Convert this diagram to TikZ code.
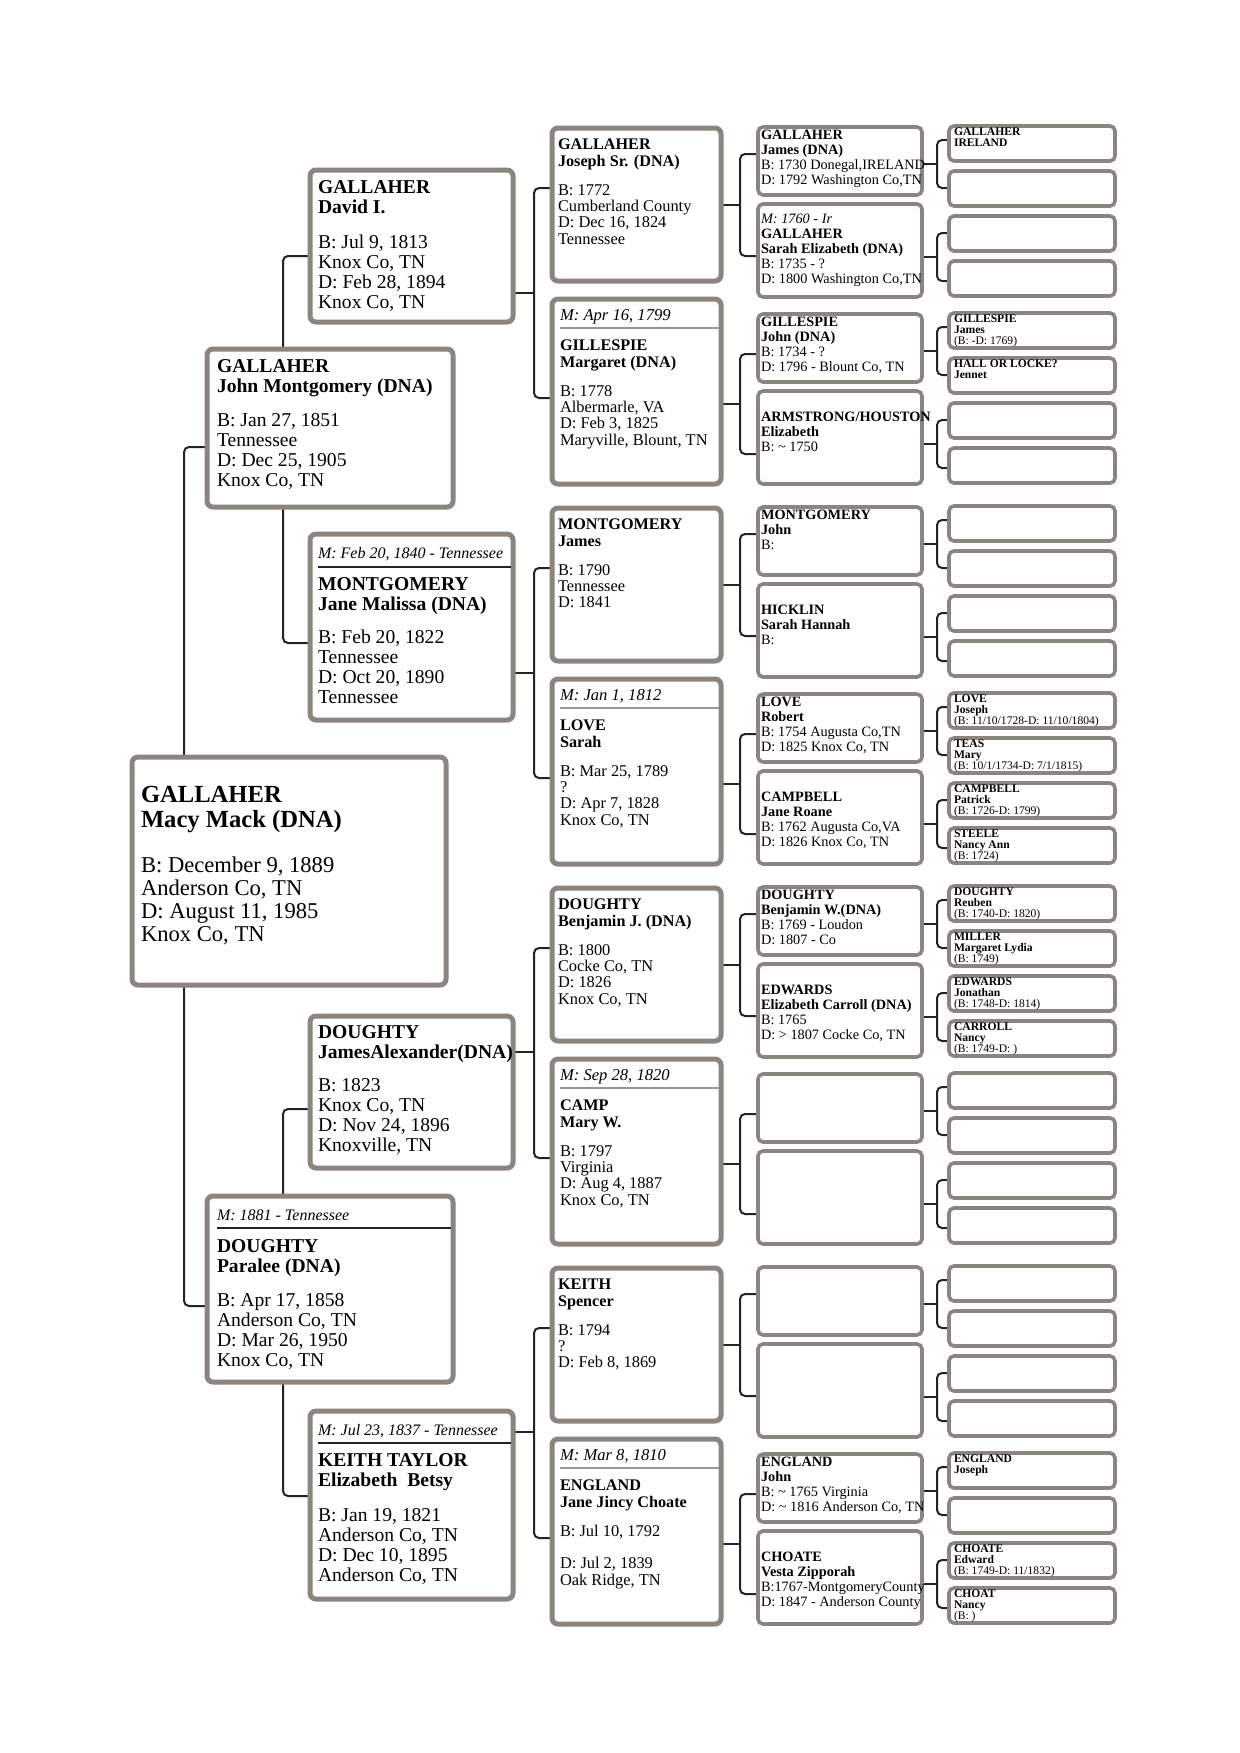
\documentclass[tikz,border=0pt]{standalone}
\usepackage{fontspec}
\setmainfont{Liberation Serif}
\pgfdeclarelayer{bg}
\pgfsetlayers{bg,main}
\definecolor{bx}{RGB}{139,133,130}
\definecolor{ln}{RGB}{35,35,35}
\definecolor{rl}{RGB}{150,150,150}
\newcommand\pedbox[6]{\node[#2,anchor=north west,minimum width={((#5)-(#3)-4)*0.5pt},minimum height={((#6)-(#4)-4)*0.5pt}] (#1) at ({(#3)+2},{(#4)+2}) {};}
\newcommand\rgl{\mdseries}
\newcommand\stk[1]{\begin{tabular}[t]{@{}l@{}}#1\end{tabular}}
\tikzset{
  bigbox/.style={draw=bx,line width=2.5pt,rounded corners=3pt,fill=white,inner sep=0pt,outer sep=0pt},
  smallbox/.style={draw=bx,line width=1.8pt,rounded corners=2.5pt,fill=white,inner sep=0pt,outer sep=0pt},
  conn/.style={draw=ln,line width=1pt,rounded corners=2.5pt},
  rule2/.style={draw=ln,line width=0.6pt},
  rule3/.style={draw=rl,line width=0.6pt},
  tx/.style={anchor=base west,inner sep=0pt,outer sep=0pt},
  nR/.style={tx,font=\bfseries\fontsize{12.3}{12.5}\selectfont},
  dR/.style={tx,font=\fontsize{11.3}{11.6}\selectfont},
  n2/.style={tx,font=\bfseries\fontsize{9.8}{10}\selectfont},
  d2/.style={tx,font=\fontsize{9.8}{10}\selectfont},
  m2/.style={tx,font=\itshape\fontsize{8}{8}\selectfont},
  n3/.style={tx,font=\bfseries\fontsize{8.1}{8.5}\selectfont},
  d3/.style={tx,font=\fontsize{8.2}{8.2}\selectfont},
  m3/.style={tx,font=\itshape\fontsize{8.3}{8.3}\selectfont},
  t4/.style={tx,font=\bfseries\fontsize{7.15}{7.5}\selectfont},
  t5/.style={tx,font=\bfseries\fontsize{5.8}{5.5}\selectfont},
}
\begin{document}
\begin{tikzpicture}[x=0.5pt,y=-0.5pt]
\begin{pgfonlayer}{bg}
\fill[white] (0,0) rectangle (1240,1753);
\end{pgfonlayer}
\useasboundingbox (0,0) rectangle (1240,1753);

% ---------- boxes ----------
\pedbox{root}{bigbox}{130}{755}{448}{987}
\pedbox{john}{bigbox}{205}{347}{455}{509}
\pedbox{paralee}{bigbox}{205}{1194}{455}{1384}
\pedbox{david}{bigbox}{308}{168}{515}{324}
\pedbox{jane}{bigbox}{308}{532}{515}{722}
\pedbox{jamesa}{bigbox}{308}{1014}{515}{1170}
\pedbox{kt}{bigbox}{308}{1409}{515}{1601}
\foreach \m/\g in {0/124,2/504,4/884,6/1264} {\pedbox{g3-\m}{bigbox}{550}{\g+2}{723}{\g+159}}
\foreach \m/\g in {1/311,3/691,5/1071,7/1451} {\pedbox{g3-\m}{bigbox}{550}{\g-14}{723}{\g+175}}
\foreach \k/\p in {0/124,2/311,4/504,6/691,8/884,10/1071,12/1264,14/1451} {\pedbox{g4-\k}{smallbox}{756}{\p+1}{924}{\p+73}}
\foreach \k/\p in {1/214,3/401,5/594,7/781,9/974,11/1161,13/1354,15/1541} {\pedbox{g4-\k}{smallbox}{756}{\p-12}{924}{\p+85}}
\foreach \i/\t in {0/124,1/169,2/214,3/259,4/311,5/356,6/401,7/446,8/504,9/549,10/594,11/639,12/691,13/736,14/781,15/826,16/884,17/929,18/974,19/1019,20/1071,21/1116,22/1161,23/1206,24/1264,25/1309,26/1354,27/1399,28/1451,29/1496,30/1541,31/1586} {\pedbox{g5-\i}{smallbox}{947}{\t}{1117}{\t+39}}

% ---------- connectors ----------
\begin{pgfonlayer}{bg}
\draw[conn] (184,0 |- root.north) |- (john.west |- 0,447);
\draw[conn] (184,0 |- root.south) |- (paralee.west |- 0,1306);
\draw[conn] (283,0 |- john.north) |- (david.west |- 0,256);
\draw[conn] (283,0 |- john.south) |- (jane.west |- 0,643);
\draw[conn] (283,0 |- paralee.north) |- (jamesa.west |- 0,1109);
\draw[conn] (283,0 |- paralee.south) |- (kt.west |- 0,1496);
\foreach \p/\a/\s/\b/\m in {david/188/293/398/0, jane/568/673/778/2, jamesa/948/1052/1158/4, kt/1328/1432/1538/6} {
  \pgfmathtruncatemacro\mb{\m+1}
  \draw[conn] (\p.east |- 0,\s) -- (534,\s);
  \draw[conn] (g3-\m.west |- 0,\a) -| (534,\s) |- (g3-\mb.west |- 0,\b);
}
\foreach \m/\a/\s/\b in {0/154/205/256, 1/354/404/454, 2/534/585/636, 3/734/784/834, 4/914/965/1016, 5/1114/1164/1214, 6/1294/1345/1396, 7/1494/1544/1594} {
  \pgfmathtruncatemacro\ka{2*\m}
  \pgfmathtruncatemacro\kb{2*\m+1}
  \draw[conn] (g3-\m.east |- 0,\s) -- (740,\s);
  \draw[conn] (g4-\ka.west |- 0,\a) -| (740,\s) |- (g4-\kb.west |- 0,\b);
}
\foreach \k/\a/\s/\b in {0/140/164/188, 1/233/257/281, 2/327/351/375, 3/420/444/468, 4/520/544/568, 5/613/637/661, 6/707/731/755, 7/800/824/848, 8/900/924/948, 9/993/1017/1041, 10/1087/1111/1135, 11/1180/1204/1228, 12/1280/1304/1328, 13/1373/1397/1421, 14/1467/1491/1515, 15/1560/1584/1608} {
  \pgfmathtruncatemacro\ia{2*\k}
  \pgfmathtruncatemacro\ib{2*\k+1}
  \draw[conn] (g4-\k.east |- 0,\s) -- (937,\s);
  \draw[conn] (g5-\ia.west |- 0,\a) -| (937,\s) |- (g5-\ib.west |- 0,\b);
}
\end{pgfonlayer}

% ---------- marriage rules ----------
\draw[rule2] (217,1228) -- (451,1228);
\draw[rule2] (318,567) -- (511,567);
\draw[rule2] (318,1443) -- (511,1443);
\foreach \y in {328,708,1088,1468} {\draw[rule3] (560,\y) -- (719,\y);}

% ---------- root ----------
\node[nR] (root-n) at (141,802) {\stk{GALLAHER\\Macy Mack (DNA)}};
\node[dR] (root-d) at (141,872) {\stk{B: December 9, 1889\\Anderson Co, TN\\D: August 11, 1985\\Knox Co, TN}};

% ---------- generation 1 ----------
\node[n2] (john-n) at (217,372) {\stk{GALLAHER\\John Montgomery (DNA)}};
\node[d2] (john-d) at (217,426) {\stk{B: Jan 27, 1851\\Tennessee\\D: Dec 25, 1905\\Knox Co, TN}};
\node[m2] (paralee-m) at (217,1220) {M: 1881 - Tennessee};
\node[n2] (paralee-n) at (217,1252) {\stk{DOUGHTY\\Paralee (DNA)}};
\node[d2] (paralee-d) at (217,1306) {\stk{B: Apr 17, 1858\\Anderson Co, TN\\D: Mar 26, 1950\\Knox Co, TN}};

% ---------- generation 2 ----------
\node[n2] (david-n) at (318,193) {\stk{GALLAHER\\David I.}};
\node[d2] (david-d) at (318,248) {\stk{B: Jul 9, 1813\\Knox Co, TN\\D: Feb 28, 1894\\Knox Co, TN}};
\node[m2] (jane-m) at (318,558) {M: Feb 20, 1840 - Tennessee};
\node[n2] (jane-n) at (318,590) {\stk{MONTGOMERY\\Jane Malissa (DNA)}};
\node[d2] (jane-d) at (318,643) {\stk{B: Feb 20, 1822\\Tennessee\\D: Oct 20, 1890\\Tennessee}};
\node[n2] (jamesa-n) at (318,1038) {\stk{DOUGHTY\\JamesAlexander(DNA)}};
\node[d2] (jamesa-d) at (318,1091) {\stk{B: 1823\\Knox Co, TN\\D: Nov 24, 1896\\Knoxville, TN}};
\node[m2] (kt-m) at (318,1435) {M: Jul 23, 1837 - Tennessee};
\node[n2] (kt-n) at (318,1466) {\stk{KEITH TAYLOR\\Elizabeth\ \ Betsy}};
\node[d2] (kt-d) at (318,1521) {\stk{B: Jan 19, 1821\\Anderson Co, TN\\D: Dec 10, 1895\\Anderson Co, TN}};

% ---------- generation 3 ----------
\node[n3] (g3-0n) at (558,149) {\stk{GALLAHER\\Joseph Sr. (DNA)}};
\node[d3] (g3-0d) at (558,195) {\stk{B: 1772\\Cumberland County\\D: Dec 16, 1824\\Tennessee}};
\node[m3] (g3-1m) at (560,320) {M: Apr 16, 1799};
\node[n3] (g3-1n) at (560,350) {\stk{GILLESPIE\\Margaret (DNA)}};
\node[d3] (g3-1d) at (560,396) {\stk{B: 1778\\Albermarle, VA\\D: Feb 3, 1825\\Maryville, Blount, TN}};
\node[n3] (g3-2n) at (558,529) {\stk{MONTGOMERY\\James}};
\node[d3] (g3-2d) at (558,575) {\stk{B: 1790\\Tennessee\\D: 1841}};
\node[m3] (g3-3m) at (560,700) {M: Jan 1, 1812};
\node[n3] (g3-3n) at (560,730) {\stk{LOVE\\Sarah}};
\node[d3] (g3-3d) at (560,776) {\stk{B: Mar 25, 1789\\?\\D: Apr 7, 1828\\Knox Co, TN}};
\node[n3] (g3-4n) at (558,909) {\stk{DOUGHTY\\Benjamin J. (DNA)}};
\node[d3] (g3-4d) at (558,955) {\stk{B: 1800\\Cocke Co, TN\\D: 1826\\Knox Co, TN}};
\node[m3] (g3-5m) at (560,1080) {M: Sep 28, 1820};
\node[n3] (g3-5n) at (560,1110) {\stk{CAMP\\Mary W.}};
\node[d3] (g3-5d) at (560,1156) {\stk{B: 1797\\Virginia\\D: Aug 4, 1887\\Knox Co, TN}};
\node[n3] (g3-6n) at (558,1289) {\stk{KEITH\\Spencer}};
\node[d3] (g3-6d) at (558,1335) {\stk{B: 1794\\?\\D: Feb 8, 1869}};
\node[m3] (g3-7m) at (560,1460) {M: Mar 8, 1810};
\node[n3] (g3-7n) at (560,1490) {\stk{ENGLAND\\Jane Jincy Choate}};
\node[d3] (g3-7d) at (560,1536) {\stk{B: Jul 10, 1792\\\mbox{}\\D: Jul 2, 1839\\Oak Ridge, TN}};

% ---------- generation 4 ----------
\node[t4] (g4-0t) at (761,139) {\stk{GALLAHER\\James (DNA)\\\rgl B: 1730 Donegal,IRELAND\\\rgl D: 1792 Washington Co,TN}};
\node[t4] (g4-1t) at (761,223) {\stk{\rgl\itshape M: 1760 - Ir\\GALLAHER\\Sarah Elizabeth (DNA)\\\rgl B: 1735 - ?\\\rgl D: 1800 Washington Co,TN}};
\node[t4] (g4-2t) at (761,326) {\stk{GILLESPIE\\John (DNA)\\\rgl B: 1734 - ?\\\rgl D: 1796 - Blount Co, TN}};
\node[t4] (g4-3t) at (761,421) {\stk{ARMSTRONG/HOUSTON\\Elizabeth\\\rgl B: \textasciitilde{} 1750}};
\node[t4] (g4-4t) at (761,519) {\stk{MONTGOMERY\\John\\\rgl B:}};
\node[t4] (g4-5t) at (761,614) {\stk{HICKLIN\\Sarah Hannah\\\rgl B:}};
\node[t4] (g4-6t) at (761,706) {\stk{LOVE\\Robert\\\rgl B: 1754 Augusta Co,TN\\\rgl D: 1825 Knox Co, TN}};
\node[t4] (g4-7t) at (761,801) {\stk{CAMPBELL\\Jane Roane\\\rgl B: 1762 Augusta Co,VA\\\rgl D: 1826 Knox Co, TN}};
\node[t4] (g4-8t) at (761,899) {\stk{DOUGHTY\\Benjamin W.(DNA)\\\rgl B: 1769 - Loudon\\\rgl D: 1807 - Co}};
\node[t4] (g4-9t) at (761,994) {\stk{EDWARDS\\Elizabeth Carroll (DNA)\\\rgl B: 1765\\\rgl D: > 1807 Cocke Co, TN}};
\node[t4] (g4-14t) at (761,1466) {\stk{ENGLAND\\John\\\rgl B: \textasciitilde{} 1765 Virginia\\\rgl D: \textasciitilde{} 1816 Anderson Co, TN}};
\node[t4] (g4-15t) at (761,1561) {\stk{CHOATE\\Vesta Zipporah\\\rgl B:1767-MontgomeryCounty\\\rgl D: 1847 - Anderson County}};

% ---------- generation 5 ----------
\node[t5] (g5-0t) at (954,135) {\stk{GALLAHER\\IRELAND}};
\node[t5] (g5-4t) at (954,322) {\stk{GILLESPIE\\James\\\rgl(B: -D: 1769)}};
\node[t5] (g5-5t) at (954,367) {\stk{HALL OR LOCKE?\\Jennet}};
\node[t5] (g5-12t) at (954,702) {\stk{LOVE\\Joseph\\\rgl(B: 11/10/1728-D: 11/10/1804)}};
\node[t5] (g5-13t) at (954,747) {\stk{TEAS\\Mary\\\rgl(B: 10/1/1734-D: 7/1/1815)}};
\node[t5] (g5-14t) at (954,792) {\stk{CAMPBELL\\Patrick\\\rgl(B: 1726-D: 1799)}};
\node[t5] (g5-15t) at (954,837) {\stk{STEELE\\Nancy Ann\\\rgl(B: 1724)}};
\node[t5] (g5-16t) at (954,895) {\stk{DOUGHTY\\Reuben\\\rgl(B: 1740-D: 1820)}};
\node[t5] (g5-17t) at (954,940) {\stk{MILLER\\Margaret Lydia\\\rgl(B: 1749)}};
\node[t5] (g5-18t) at (954,985) {\stk{EDWARDS\\Jonathan\\\rgl(B: 1748-D: 1814)}};
\node[t5] (g5-19t) at (954,1030) {\stk{CARROLL\\Nancy\\\rgl(B: 1749-D: )}};
\node[t5] (g5-28t) at (954,1462) {\stk{ENGLAND\\Joseph}};
\node[t5] (g5-30t) at (954,1552) {\stk{CHOATE\\Edward\\\rgl(B: 1749-D: 11/1832)}};
\node[t5] (g5-31t) at (954,1597) {\stk{CHOAT\\Nancy\\\rgl(B: )}};
\end{tikzpicture}
\end{document}
